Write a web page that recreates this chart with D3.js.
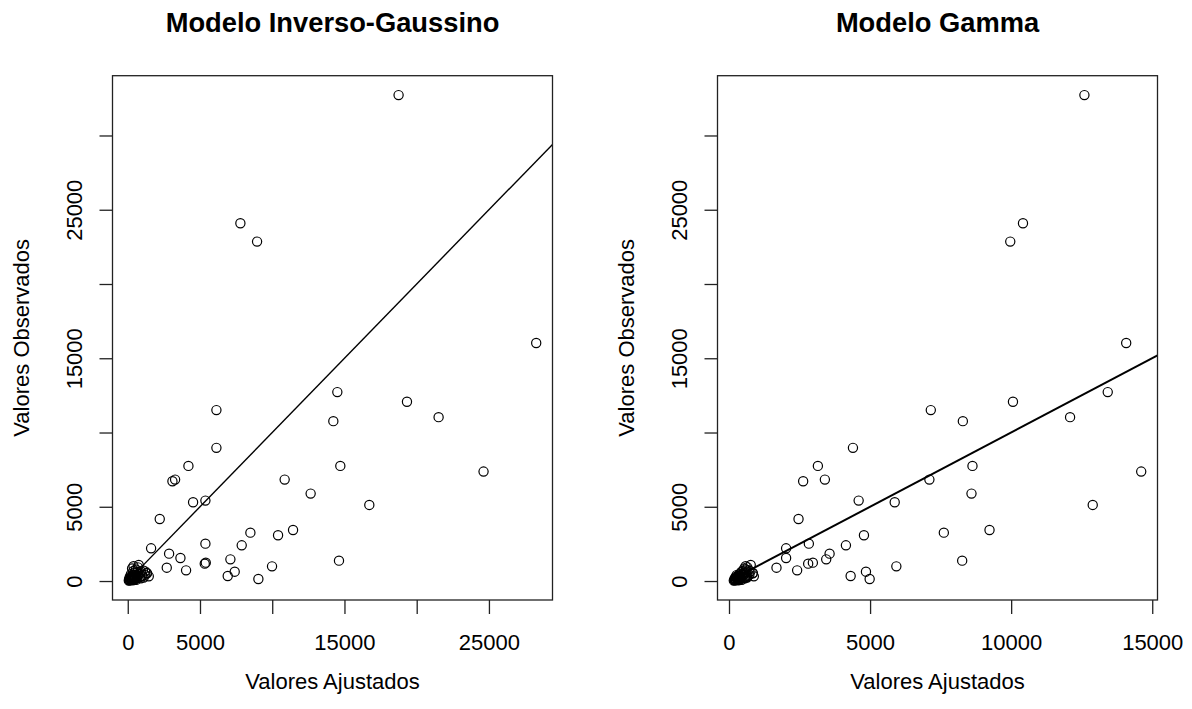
<!DOCTYPE html>
<html>
<head>
<meta charset="utf-8">
<script src="https://cdn.jsdelivr.net/npm/d3@7"></script>
<style>
  body { margin: 0; background: #fff; }
  text { font-family: "Liberation Sans", Arial, sans-serif; fill: #000; }
</style>
</head>
<body>
<div id="chart"></div>
<script>

// valores observados (iguais nos dois modelos)
const observados = [
  32718, 24089, 22855, 16025, 12720, 12068, 11035, 11508, 10766, 8966,
  7753, 7753, 7370, 6721, 6831, 6831, 5888, 5303, 5416, 5124,
  4180, 3258, 3438, 3079, 2517, 2405, 2202, 1843, 1551, 1461,
  1371, 899, 719, 1169, 1236, 989, 337, 629, 135,
  // aglomerado perto da origem
  30, 45, 60, 80, 95, 110, 130, 150, 170, 190,
  210, 230, 250, 270, 300, 320, 350, 380, 400, 430,
  460, 490, 520, 560, 600, 640, 680, 720, 780, 850,
  920, 1000, 1080, 120, 200, 260, 340, 410, 55, 75,
  315, 540, 180, 240, 90, 650
]

// valores ajustados - modelo inverso-gaussiano
const ajustadosIG = [
  18746, 7796, 8951, 28272, 14506, 19327, 21516, 6136, 14229, 6136,
  4199, 14713, 24627, 3092, 3277, 10861, 12659, 4522, 5375, 16720,
  2214, 8488, 11441, 10403, 5375, 7888, 1615, 2862, 3646, 7104,
  14621, 2700, 4037, 5330, 5400, 9986, 6920, 7403, 9041,
  72, 150, 110, 260, 200, 330, 90, 420, 180, 300,
  520, 240, 380, 140, 610, 460, 280, 700, 350, 540,
  220, 820, 1340, 480, 650, 900, 390, 1050, 560, 300,
  700, 400, 760, 500, 640, 820, 1000, 1180, 340, 580,
  1455, 1300, 900, 1100, 450, 1200
]

// valores ajustados - modelo gama
const ajustadosGamma = [
  12596, 10419, 9968, 14077, 13423, 10064, 12088, 7152, 8288, 4393,
  3150, 8629, 14609, 2628, 3398, 7102, 8594, 5873, 4595, 12891,
  2464, 7614, 9233, 4783, 2830, 4144, 2024, 3565, 2024, 3445,
  8264, 1683, 2415, 2806, 2972, 5931, 4311, 4854, 4985,
  170, 210, 250, 190, 300, 230, 280, 350, 200, 390,
  260, 330, 420, 240, 470, 310, 380, 500, 270, 450,
  360, 560, 840, 520, 430, 620, 480, 700, 600, 540,
  650, 590, 770, 400, 520, 600, 660, 720, 330, 450,
  880, 842, 560, 640, 320, 760
]

const yTicks  = [0, 5000, 10000, 15000, 20000, 25000, 30000]
const yLabels = [0, 5000, 15000, 25000]

const xTicksIG  = [0, 5000, 10000, 15000, 20000, 25000]
const xLabelsIG = [0, 5000, 15000, 25000]

const xTicksGamma  = [0, 5000, 10000, 15000]
const xLabelsGamma = [0, 5000, 10000, 15000]

// reta y = x
const refLine = [600, 40000]

const W = 1192, H = 709

let svg = d3.select("#chart")
  .append("svg")
  .attr("width", W)
  .attr("height", H)

// domínio como no R: extensão dos dados + 4%
function rDomain(values) {
  let [lo, hi] = d3.extent(values)
  let pad = (hi - lo) * 0.04
  return [lo - pad, hi + pad]
}

function drawPanel({id, title, fitted, xTicks, xLabels, left, lineWidth}) {

  const top = 75.7, bottom = 600, width = 440
  const height = bottom - top

  let g = svg.append("g")
    .attr("transform", "translate(" + left + "," + top + ")")

  let x = d3.scaleLinear()
    .domain(rDomain(fitted))
    .range([0, width])

  let y = d3.scaleLinear()
    .domain(rDomain(observados))
    .range([height, 0])

  g.append("clipPath").attr("id", id)
    .append("rect")
    .attr("width", width)
    .attr("height", height)

  // X axis
  let ax = g.append("g")
    .attr("transform", "translate(0," + height + ")")
    .call(d3.axisBottom(x)
      .tickValues(xTicks)
      .tickSize(14)
      .tickPadding(20.5)
      .tickFormat(d => xLabels.includes(d) ? d : ""))
  ax.select(".domain").remove()
  ax.selectAll("line").attr("stroke", "#222").attr("stroke-width", 1.3)
  ax.selectAll("text").style("font-size", "22px").attr("fill", "#000")

  // Y axis (rótulos na vertical)
  let ay = g.append("g")
    .call(d3.axisLeft(y)
      .tickValues(yTicks)
      .tickSize(13)
      .tickFormat(d => yLabels.includes(d) ? d : ""))
  ay.select(".domain").remove()
  ay.selectAll("line").attr("stroke", "#222").attr("stroke-width", 1.3)
  ay.selectAll("text")
    .style("font-size", "22px")
    .attr("fill", "#000")
    .attr("transform", "rotate(-90)")
    .attr("x", 0)
    .attr("y", -30.5)
    .attr("dy", null)
    .style("text-anchor", "middle")

  // pontos
  g.append("g").selectAll("circle")
    .data(fitted.map((f, i) => [f, observados[i]]))
    .enter()
    .append("circle")
    .attr("cx", d => x(d[0]))
    .attr("cy", d => y(d[1]))
    .attr("r", 4.6)
    .attr("fill", "none")
    .attr("stroke", "#000")
    .attr("stroke-width", 1.2)

  // reta
  g.append("path")
    .datum(refLine.map(v => [v, v]))
    .attr("clip-path", "url(#" + id + ")")
    .attr("d", d3.line().x(d => x(d[0])).y(d => y(d[1])))
    .attr("fill", "none")
    .attr("stroke", "#000")
    .attr("stroke-width", lineWidth)

  // caixa
  g.append("rect")
    .attr("width", width)
    .attr("height", height)
    .attr("fill", "none")
    .attr("stroke", "#222")
    .attr("stroke-width", 1.3)

  // títulos
  g.append("text")
    .attr("x", width / 2)
    .attr("y", 31.7 - top)
    .attr("text-anchor", "middle")
    .style("font-size", "27.3px")
    .style("font-weight", "bold")
    .text(title)

  g.append("text")
    .attr("x", width / 2)
    .attr("y", 689.5 - top)
    .attr("text-anchor", "middle")
    .style("font-size", "22px")
    .text("Valores Ajustados")

  g.append("text")
    .attr("transform", "translate(-84," + (height / 2) + ")rotate(-90)")
    .attr("text-anchor", "middle")
    .style("font-size", "22px")
    .text("Valores Observados")
}

drawPanel({id: "clipIG", title: "Modelo Inverso-Gaussino", fitted: ajustadosIG,
  xTicks: xTicksIG, xLabels: xLabelsIG, left: 112.5, lineWidth: 1.4})

drawPanel({id: "clipGamma", title: "Modelo Gamma", fitted: ajustadosGamma,
  xTicks: xTicksGamma, xLabels: xLabelsGamma, left: 717.5, lineWidth: 2})

</script>
</body>
</html>
